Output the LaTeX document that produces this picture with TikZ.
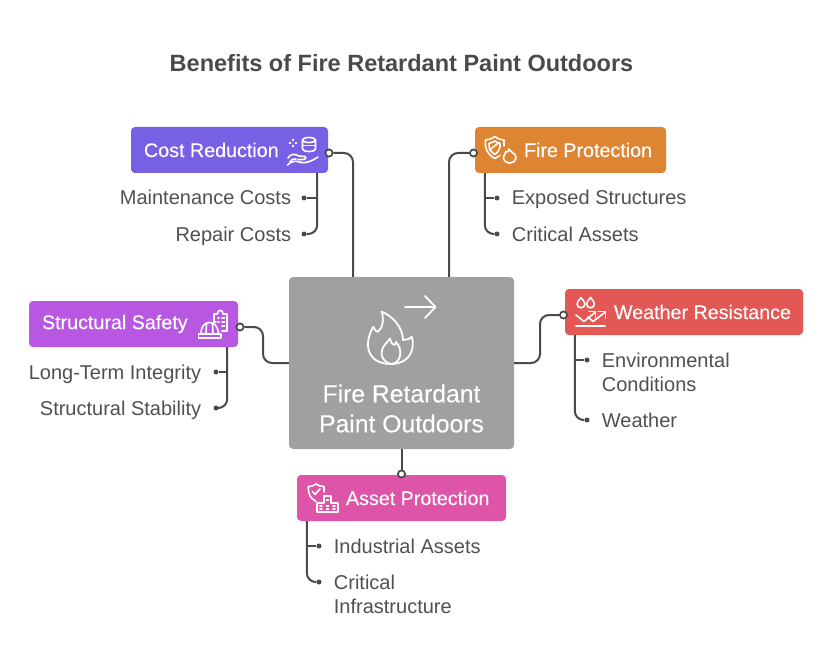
\documentclass[tikz,border=0pt]{standalone}
\usepackage{fontspec}
\setmainfont{Liberation Sans}
\newfontfamily\mediumfont[FakeBold=0.2]{Liberation Sans}
\usetikzlibrary{positioning,calc}
\definecolor{costcolor}{RGB}{120,96,228}
\definecolor{firecolor}{RGB}{221,133,51}
\definecolor{safetycolor}{RGB}{184,88,226}
\definecolor{weathercolor}{RGB}{227,87,85}
\definecolor{assetcolor}{RGB}{221,84,168}
\definecolor{maincolor}{RGB}{160,160,160}
\definecolor{inkcolor}{RGB}{74,74,74}
\definecolor{textcolor}{RGB}{80,80,80}

\begin{document}
\begin{tikzpicture}[
    x=1pt, y=-1pt,
    title/.style={font=\fontsize{23.5}{28}\selectfont\bfseries, text=inkcolor, inner sep=0pt},
    mainbox/.style={rectangle, rounded corners=4pt, fill=maincolor, minimum width=225pt, minimum height=172pt, inner sep=0pt},
    box/.style={rectangle, rounded corners=4pt, minimum height=46pt, inner sep=0pt},
    boxtext/.style={font=\mediumfont\fontsize{19.7}{24}\selectfont, text=white, inner sep=0pt, anchor=west},
    maintext/.style={font=\mediumfont\fontsize{24.7}{30}\selectfont, text=white, inner sep=0pt, align=center},
    item/.style={font=\fontsize{20}{24}\selectfont, text=textcolor, inner sep=0pt},
    oneline/.style={item, text height=18pt, text depth=4pt},
    dot/.style={circle, fill=inkcolor, minimum size=5pt, inner sep=0pt},
    port/.style={circle, fill=white, draw=inkcolor, line width=1.6pt, minimum size=7pt, inner sep=0pt},
    conn/.style={draw=inkcolor, line width=2pt, rounded corners=9pt},
    icon/.style={draw=white, line width=1.6pt, line cap=round, line join=round},
    bigicon/.style={draw=white, line width=1.8pt, line cap=round, line join=round}
]
\useasboundingbox (0,0) rectangle (831,666);

% Title
\node[title] (head) at (401.5,63) {Benefits of Fire Retardant Paint Outdoors};

% Centre
\node[mainbox] (main) at (401.5,363) {};
\node[maintext] (maintitle) at (401.5,408.5) {Fire Retardant\\Paint Outdoors};

% Boxes
\node[box, fill=costcolor, minimum width=197pt] (cost) at (229.5,150) {};
\node[box, fill=firecolor, minimum width=191pt] (fire) at (570.5,150) {};
\node[box, fill=safetycolor, minimum width=209pt] (safety) at (133.5,324) {};
\node[box, fill=weathercolor, minimum width=238pt] (weather) at (684,312) {};
\node[box, fill=assetcolor, minimum width=209pt] (asset) at (401.5,498) {};

% Box texts
\node[boxtext, right=13pt of cost.west] (costtext) {Cost Reduction};
\node[boxtext, right=49pt of fire.west] (firetext) {Fire Protection};
\node[boxtext, right=13pt of safety.west] (safetytext) {Structural Safety};
\node[boxtext, right=49pt of weather.west] (weathertext) {Weather Resistance};
\node[boxtext, right=49pt of asset.west] (assettext) {Asset Protection};

% Ports
\node[port] (costport) at (329,153) {};
\node[port] (fireport) at (473.5,153) {};
\node[port] (safetyport) at (240,327) {};
\node[port] (weatherport) at (563.5,315) {};
\node[port] (assetport) at (401.5,474) {};

% Dots
\node[dot] (costa) at (304,198) {};
\node[dot] (costb) at (304,234) {};
\node[dot] (firea) at (497,198) {};
\node[dot] (fireb) at (497,234) {};
\node[dot] (safetya) at (216,372) {};
\node[dot] (safetyb) at (216,408) {};
\node[dot] (weathera) at (587,360) {};
\node[dot] (weatherb) at (587,420) {};
\node[dot] (asseta) at (319,546) {};
\node[dot] (assetb) at (319,582) {};

% Items
\node[oneline, left=10pt of costa, anchor=east] (costitema) {Maintenance Costs};
\node[oneline, left=10pt of costb, anchor=east] (costitemb) {Repair Costs};
\node[oneline, right=12pt of firea, anchor=west] (fireitema) {Exposed Structures};
\node[oneline, right=12pt of fireb, anchor=west] (fireitemb) {Critical Assets};
\node[oneline, left=12pt of safetya, anchor=east] (safetyitema) {Long-Term Integrity};
\node[oneline, left=12pt of safetyb, anchor=east] (safetyitemb) {Structural Stability};
\node[item, right=12pt of weathera, anchor=north west, yshift=7pt, align=left] (weatheritema) {Environmental\\Conditions};
\node[oneline, right=12pt of weatherb, anchor=west] (weatheritemb) {Weather};
\node[oneline, right=12pt of asseta, anchor=west] (assetitema) {Industrial Assets};
\node[item, right=12pt of assetb, anchor=north west, yshift=7pt, align=left] (assetitemb) {Critical\\Infrastructure};

% Stems
\coordinate (coststem) at ([xshift=-11pt]cost.south east);
\coordinate (firestem) at ([xshift=10pt]fire.south west);
\coordinate (safetystem) at ([xshift=-11pt]safety.south east);
\coordinate (weatherstem) at ([xshift=10pt]weather.south west);
\coordinate (assetstem) at ([xshift=10pt]asset.south west);
\draw[conn] (coststem) |- (costb);
\draw[conn] (firestem) |- (fireb);
\draw[conn] (safetystem) |- (safetyb);
\draw[conn] (weatherstem) |- (weatherb);
\draw[conn] (assetstem) |- (assetb);
\draw[conn] (coststem |- costa) -- (costa);
\draw[conn] (firestem |- firea) -- (firea);
\draw[conn] (safetystem |- safetya) -- (safetya);
\draw[conn] (weatherstem |- weathera) -- (weathera);
\draw[conn] (assetstem |- asseta) -- (asseta);

% Links to the centre
\coordinate (costin) at ([xshift=-48.5pt]main.north);
\coordinate (firein) at ([xshift=47.5pt]main.north);
\coordinate (safetybend) at (263,345);
\coordinate (weatherbend) at (540,339);
\draw[conn] (costport) -| (costin);
\draw[conn] (fireport) -| (firein);
\draw[conn] (safetyport) -| (safetybend) |- (main.west);
\draw[conn] (main.east) -| (weatherbend) |- (weatherport);
\draw[conn] (main.south) -- (assetport);

% Redraw ports over the lines
\node[port] at (costport) {};
\node[port] at (fireport) {};
\node[port] at (safetyport) {};
\node[port] at (weatherport) {};
\node[port] at (assetport) {};

% Centre icon
\draw[bigicon] (381.7,311.7) .. controls (393,316) and (403,328) .. (403,340)
    .. controls (406,340) and (410,339) .. (411.7,336.7)
    .. controls (415,346) and (412,364) .. (390.7,364)
    .. controls (374,364) and (368,354) .. (368,345)
    .. controls (368,336) and (371,331) .. (373.3,326.7)
    .. controls (374,329) and (376,332) .. (378,331.7)
    .. controls (383,328) and (384,319) .. (381.7,311.7) -- cycle;
\draw[bigicon] (390.7,364) .. controls (384,362) and (381,357) .. (381.7,352)
    .. controls (382,346) and (387,343) .. (390,338.5)
    .. controls (391,342) and (392,345) .. (394,345)
    .. controls (396,345) and (396,343) .. (396,342)
    .. controls (400,346) and (401,352) .. (400,356)
    .. controls (399,361) and (395,364) .. (390.7,364);
\draw[bigicon] (405,307) -- (435,307);
\draw[bigicon] (425,296) -- (435.5,307) -- (425,318);

% Cost icon
\draw[icon] (302.5,140) arc[start angle=180, end angle=0, x radius=6.5, y radius=2.5] -- (315.5,149) arc[start angle=0, end angle=180, x radius=6.5, y radius=2.5] -- cycle;
\draw[icon] (302.5,140) arc[start angle=180, end angle=360, x radius=6.5, y radius=2.5];
\draw[icon] (302.5,145.5) -- (315.5,145.5);
\draw[icon] (293,139.5) -- (293,140.5) (293,145.5) -- (293,146.5) (289.5,143) -- (290.5,143) (295.5,143) -- (296.5,143);
\draw[icon] (288,158) .. controls (291,153) and (295,154) .. (299,156) -- (305,156.5) .. controls (307,157) and (306,159.5) .. (304,159.5) -- (298,159.5);
\draw[icon] (287.5,165) .. controls (292,160) and (297,161) .. (301,162.5) .. controls (306,163.5) and (312,161) .. (318,157);
\draw[icon] (290,162) .. controls (292,159) and (294,158.5) .. (296,159);

% Fire protection icon
\draw[icon] (495,136.5) .. controls (491,139) and (488,140) .. (485.5,140) .. controls (484.5,149) and (488,155) .. (495,158.5) -- (500,155.5);
\draw[icon] (495,136.5) .. controls (498,139) and (501,140) .. (504,140) -- (504,146);
\draw[icon] (495,141) .. controls (492,142.5) and (490.5,143) .. (489,143.5) .. controls (488.5,149) and (491,152) .. (495,154.5) .. controls (497,153) and (499,150.5) .. (500,147) -- (500,143.5) .. controls (498,143) and (496.5,142.5) .. (495,141);
\draw[icon] (489.5,150) -- (499,142.5);
\draw[icon] (509,149) .. controls (511,153) and (516,153) .. (516,158) .. controls (516,161) and (513,163) .. (510,163) .. controls (506,163) and (503,160) .. (503.5,157) .. controls (504,154) and (506,153) .. (506,151.5) .. controls (507,153) and (508,152) .. (509,149);

% Structural safety icon
\draw[icon] (216,322) -- (214,322) -- (214,314) -- (217.5,314) .. controls (217.5,309) and (223,309) .. (223,314) -- (227,314) -- (227,331) -- (222,331);
\draw[icon] (218,318) -- (219,318) (222,318) -- (224.5,318) (218,322) -- (219,322) (222,322) -- (224.5,322) (222,326) -- (224.5,326);
\draw[icon] (198.5,338) -- (221,338) -- (221,334) -- (198.5,334) -- cycle;
\draw[icon] (201,334) .. controls (201,326) and (205,322.5) .. (209.5,322.5) .. controls (214,322.5) and (218,326) .. (218.5,334);
\draw[icon] (206,333) -- (206.5,324) (213,333) -- (212.5,324);

% Weather resistance icon
\draw[icon] (581,297.5) .. controls (583,300.5) and (585,302) .. (585,304) .. controls (585,309) and (577,309) .. (577,304) .. controls (577,302) and (579,300.5) .. (581,297.5) -- cycle;
\draw[icon] (590.5,297.5) .. controls (592.5,300.5) and (594.5,302) .. (594.5,304) .. controls (594.5,309) and (586.5,309) .. (586.5,304) .. controls (586.5,302) and (588.5,300.5) .. (590.5,297.5) -- cycle;
\draw[icon] (576,315) -- (584,321.5) -- (595,312.5);
\draw[icon] (588,317) -- (593,321.5) -- (605.5,312);
\draw[icon] (598,311.5) -- (605.5,311.5) -- (605.5,318);
\draw[icon] (589,311.5) -- (595.5,311.5) -- (595.5,317);
\draw[icon] (576,326) -- (605,326);

% Asset protection icon
\draw[icon] (316,484) .. controls (313,486) and (311,486.5) .. (308.5,486.5) .. controls (308,494) and (310,498) .. (316,501.5);
\draw[icon] (316,484) .. controls (319,486) and (321,486.5) .. (324,486.5) -- (324,492);
\draw[icon] (312.5,491.5) -- (315,494.5) -- (320,489);
\draw[icon] (317,512) -- (317,503) -- (324,503) -- (324,496) -- (331,496) -- (331,503) -- (338,503) -- (338,512) -- cycle;
\draw[icon] (320,506) -- (322,506) (320,509) -- (322,509) (326.5,500) -- (328.5,500) (326.5,506) -- (328.5,506) (326.5,509) -- (328.5,509) (333,506) -- (335,506) (333,509) -- (335,509);
\end{tikzpicture}
\end{document}
